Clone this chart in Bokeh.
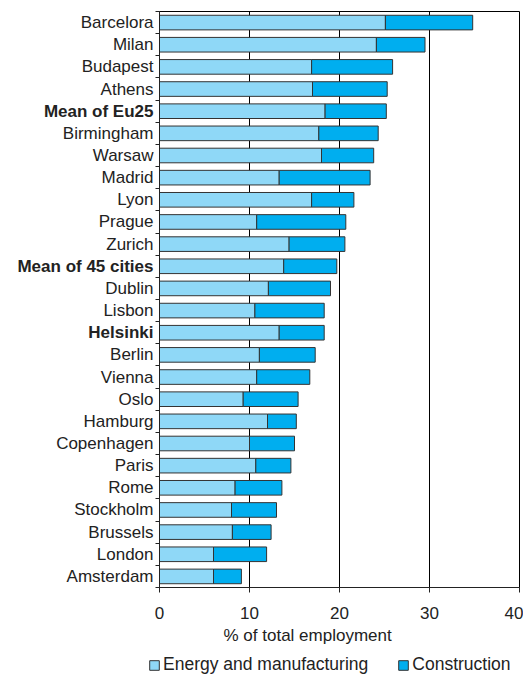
from bokeh.plotting import figure
from bokeh.layouts import row, column
from bokeh.models import (ColumnDataSource, Range1d, FixedTicker, Legend, LegendItem)
from bokeh.core.properties import value
from bokeh.embed import file_html
from bokeh.resources import INLINE

cities = ["Barcelora", "Milan", "Budapest", "Athens", "Mean of Eu25", "Birmingham",
          "Warsaw", "Madrid", "Lyon", "Prague", "Zurich", "Mean of 45 cities", "Dublin",
          "Lisbon", "Helsinki", "Berlin", "Vienna", "Oslo", "Hamburg", "Copenhagen",
          "Paris", "Rome", "Stockholm", "Brussels", "London", "Amsterdam"]
energy = [25.1, 24.1, 16.9, 17.0, 18.4, 17.7, 18.0, 13.3, 16.9, 10.8, 14.4, 13.8, 12.1,
          10.6, 13.3, 11.1, 10.8, 9.3, 12.0, 10.0, 10.7, 8.4, 8.0, 8.1, 6.0, 6.0]
construction = [9.7, 5.4, 9.0, 8.3, 6.8, 6.6, 5.8, 10.1, 4.7, 9.9, 6.2, 5.9, 6.9,
                7.7, 5.0, 6.2, 5.9, 6.1, 3.2, 5.0, 3.9, 5.2, 5.0, 4.3, 5.9, 3.1]
bold_labels = ["Mean of Eu25", "Mean of 45 cities", "Helsinki"]
series = ["Energy and manufacturing", "Construction"]
colors = ["#8fd8f7", "#00aeef"]
x_ticks = [0, 10, 20, 30, 40]
x_title = "% of total employment"

FONT = "Liberation Sans"
FS = "17px"
TXT = "#222222"
n = len(cities)
ypos = [n - i - 0.5 for i in range(n)]

# ---------------- label panel ----------------
LW = 154
lab = figure(width=LW, frame_width=LW, frame_height=576, output_backend="svg",
             toolbar_location=None, x_range=Range1d(0, LW), y_range=Range1d(0, n),
             min_border_left=0, min_border_right=0, min_border_top=11,
             min_border_bottom=0)
lab.axis.visible = False
lab.grid.grid_line_color = None
lab.outline_line_color = None
weights = ["bold" if c in bold_labels else "normal" for c in cities]
lsrc = ColumnDataSource(dict(x=[LW - 1] * n, y=ypos, t=cities, w=weights))
lab.text(x="x", y="y", text="t", source=lsrc, text_align="right",
         text_baseline="middle", text_font=value(FONT), text_font_size=FS,
         text_font_style="w", text_color=TXT)

# ---------------- chart ----------------
src = ColumnDataSource(dict(y=ypos, energy=energy, construction=construction))

p = figure(frame_width=360, frame_height=576, output_backend="svg",
           toolbar_location=None, x_range=Range1d(0, 40), y_range=Range1d(0, n),
           min_border_left=5, min_border_right=4, min_border_top=11,
           min_border_bottom=39)
p.background_fill_color = "white"
p.border_fill_color = "white"
p.outline_line_color = "black"
p.outline_line_width = 1

rs = p.hbar_stack(["energy", "construction"], y="y", height=0.66, source=src,
                  color=colors, line_color="#333333", line_width=1)

p.xaxis.ticker = FixedTicker(ticks=x_ticks, minor_ticks=[])
p.xaxis.major_label_text_font = FONT
p.xaxis.major_label_text_font_size = FS
p.xaxis.major_label_text_color = TXT
p.xaxis.major_tick_in = 0
p.xaxis.major_tick_out = 5
p.xaxis.major_label_standoff = 14
p.xaxis.axis_line_color = TXT
p.xaxis.major_tick_line_color = TXT

p.yaxis.ticker = FixedTicker(ticks=[], minor_ticks=list(range(n + 1)))
p.yaxis.major_tick_in = 0
p.yaxis.major_tick_out = 0
p.yaxis.minor_tick_in = 0
p.yaxis.minor_tick_out = 4
p.yaxis.major_label_standoff = 0
p.yaxis.axis_line_color = TXT
p.yaxis.minor_tick_line_color = TXT

p.xgrid.grid_line_color = "black"
p.xgrid.grid_line_width = 1
p.ygrid.grid_line_color = None

# ---------------- bottom panel: axis title + legend ----------------
BW, BH = 523, 49
b = figure(width=BW, height=BH, frame_width=BW, frame_height=BH, output_backend="svg",
           toolbar_location=None, x_range=Range1d(0, BW), y_range=Range1d(BH, 0),
           min_border_left=0, min_border_right=0, min_border_top=0,
           min_border_bottom=0)
b.axis.visible = False
b.grid.grid_line_color = None
b.outline_line_color = None
b.text(x=[223], y=[9], text=[x_title], text_align="left", text_baseline="middle",
       text_font=value(FONT), text_font_size=FS, text_color=TXT,
       text_line_height=1.0)
# legend key renderers (zero-size, only their styles are used by the legend)
dummies = [b.hbar(y=[0], left=[0], right=[0], height=0, fill_color=c,
                  line_color="#333333", line_width=1) for c in colors]
legend = Legend(items=[LegendItem(label=s, renderers=[r]) for s, r in zip(series, dummies)],
                orientation="horizontal", location=(148, 0),
                label_text_font=FONT, label_text_font_size="17.5px",
                label_text_color=TXT, label_height=12, label_text_line_height=1.0,
                glyph_width=12, glyph_height=12, label_standoff=3, spacing=29,
                padding=0, margin=0, border_line_color=None,
                background_fill_alpha=0)
b.add_layout(legend, "center")

open("out.html", "w").write(file_html(column(row(lab, p), b), INLINE))
